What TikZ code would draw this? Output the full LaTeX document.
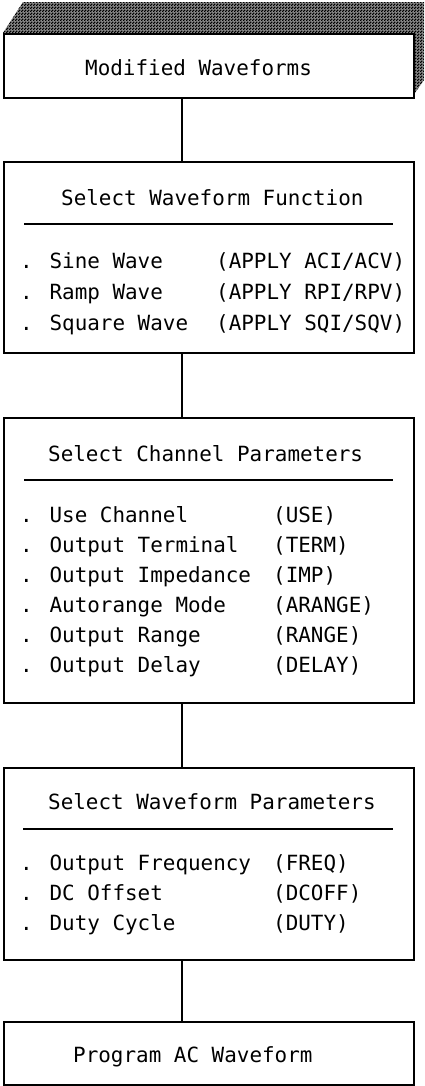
\documentclass[tikz,border=0pt]{standalone}
\usepackage{fontspec}
\newfontfamily\plotfont{DejaVu Sans Mono}
\usetikzlibrary{patterns}
\pgfdeclarepatternformonly{finecheck}{\pgfpointorigin}{\pgfqpoint{3bp}{3bp}}{\pgfqpoint{3bp}{3bp}}{%
  \pgfpathrectangle{\pgfpointorigin}{\pgfqpoint{1.7bp}{1.7bp}}%
  \pgfpathrectangle{\pgfqpoint{1.5bp}{1.5bp}}{\pgfqpoint{1.7bp}{1.7bp}}%
  \pgfusepath{fill}}
\begin{document}
\begin{tikzpicture}[x=1bp,y=-1bp,
  box/.style={draw, line width=1.7bp, fill=white, anchor=north west, inner sep=0pt, minimum width=410bp},
  txt/.style={font=\plotfont\fontsize{21}{25}\selectfont, anchor=base west, inner sep=0pt},
  conn/.style={line width=1.7bp},
  rulest/.style={line width=1.7bp},
  shade/.style={fill=black!45, postaction={pattern=finecheck}}]
\useasboundingbox (0,0) rectangle (424,1086);
\fill[white] (0,0) rectangle (424,1086);
% shaded extrusion
\path[shade] (3,33) -- (23,2) -- (424,2) -- (424,80) -- (412,97) -- cycle;
% boxes
\node[box, minimum height=64bp] (b1) at (3,33) {};
\node[box, minimum height=191bp] (b2) at (3,161) {};
\node[box, minimum height=285bp] (b3) at (3,417) {};
\node[box, minimum height=192bp] (b4) at (3,767) {};
\node[box, minimum height=63bp] (b5) at (3,1021) {};
% connectors
\coordinate (cx) at (182,0);
\draw[conn] (b1.south -| cx) -- (b2.north -| cx);
\draw[conn] (b2.south -| cx) -- (b3.north -| cx);
\draw[conn] (b3.south -| cx) -- (b4.north -| cx);
\draw[conn] (b4.south -| cx) -- (b5.north -| cx);
% box 1
\node[txt] (t1) at (85,75) {Modified Waveforms};
% box 2
\node[txt] (t2) at (61,205) {Select Waveform Function};
\draw[rulest] (24,224) -- (393,224);
\node[txt] (s1) at (20,268) {. Sine Wave};
\node[txt] (s1p) at (216,268) {(APPLY ACI/ACV)};
\node[txt] (s2) at (20,299) {. Ramp Wave};
\node[txt] (s2p) at (216,299) {(APPLY RPI/RPV)};
\node[txt] (s3) at (20,330) {. Square Wave};
\node[txt] (s3p) at (216,330) {(APPLY SQI/SQV)};
% box 3
\node[txt] (t3) at (48,461) {Select Channel Parameters};
\draw[rulest] (24,480) -- (393,480);
\node[txt] (c1) at (20,522) {. Use Channel};
\node[txt] (c1p) at (273,522) {(USE)};
\node[txt] (c2) at (20,552) {. Output Terminal};
\node[txt] (c2p) at (273,552) {(TERM)};
\node[txt] (c3) at (20,582) {. Output Impedance};
\node[txt] (c3p) at (273,582) {(IMP)};
\node[txt] (c4) at (20,612) {. Autorange Mode};
\node[txt] (c4p) at (273,612) {(ARANGE)};
\node[txt] (c5) at (20,642) {. Output Range};
\node[txt] (c5p) at (273,642) {(RANGE)};
\node[txt] (c6) at (20,672) {. Output Delay};
\node[txt] (c6p) at (273,672) {(DELAY)};
% box 4
\node[txt] (t4) at (48,809) {Select Waveform Parameters};
\draw[rulest] (23,829) -- (393,829);
\node[txt] (p1) at (20,870) {. Output Frequency};
\node[txt] (p1p) at (273,870) {(FREQ)};
\node[txt] (p2) at (20,900) {. DC Offset};
\node[txt] (p2p) at (273,900) {(DCOFF)};
\node[txt] (p3) at (20,930) {. Duty Cycle};
\node[txt] (p3p) at (273,930) {(DUTY)};
% box 5
\node[txt] (t5) at (73,1062) {Program AC Waveform};
\end{tikzpicture}
\end{document}
